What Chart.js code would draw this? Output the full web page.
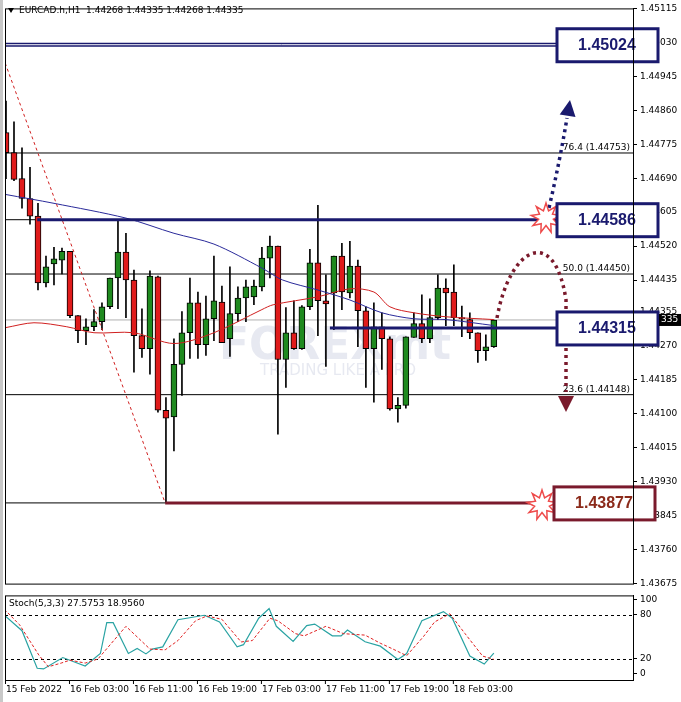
<!DOCTYPE html>
<html>
<head>
<meta charset="utf-8">
<script src="https://cdn.jsdelivr.net/npm/chart.js@4.4.1/dist/chart.umd.min.js"></script>
<style>
    body { margin: 0; background: #fff; width: 681px; height: 702px; overflow: hidden; position: relative; }
    canvas { position: absolute; left: 0; }
    #main-chart { top: 0; }
    #stoch-chart { top: 587px; }
</style>
</head>
<body>
<canvas id="main-chart" width="681" height="592"></canvas>
<canvas id="stoch-chart" width="681" height="115"></canvas>
<script>
/*
    data (EURCAD H1)
*/
const candleOpen = [
    1.44804, 1.44754, 1.44689, 1.44639, 1.44595, 1.44428, 1.44475, 1.44485, 1.44507, 1.44346,
    1.44308, 1.44318, 1.44331, 1.44368, 1.44440, 1.44505, 1.44435, 1.44296, 1.44263, 1.44443,
    1.44109, 1.44092, 1.44224, 1.44303, 1.44378, 1.44273, 1.44338, 1.44380, 1.44288, 1.44351,
    1.44390, 1.44393, 1.44418, 1.44490, 1.44520, 1.44236, 1.44303, 1.44263, 1.44368, 1.44478,
    1.44383, 1.44403, 1.44495, 1.44403, 1.44470, 1.44358, 1.44263, 1.44318, 1.44288, 1.44112,
    1.44121, 1.44291, 1.44326, 1.44288, 1.44341, 1.44415, 1.44405, 1.44341, 1.44336, 1.44303,
    1.44258, 1.44268
];
const candleClose = [
    1.44754, 1.44687, 1.44639, 1.44595, 1.44428, 1.44468, 1.44488, 1.44507, 1.44346, 1.44308,
    1.44318, 1.44331, 1.44368, 1.44440, 1.44505, 1.44435, 1.44296, 1.44263, 1.44445, 1.44109,
    1.44089, 1.44224, 1.44303, 1.44378, 1.44273, 1.44338, 1.44383, 1.44278, 1.44351, 1.44390,
    1.44418, 1.44420, 1.44490, 1.44520, 1.44236, 1.44303, 1.44263, 1.44368, 1.44478, 1.44383,
    1.44375, 1.44495, 1.44405, 1.44470, 1.44358, 1.44263, 1.44318, 1.44288, 1.44112, 1.44121,
    1.44293, 1.44326, 1.44288, 1.44341, 1.44415, 1.44403, 1.44341, 1.44338, 1.44303, 1.44258,
    1.44268, 1.44335
];
const candleHigh = [
    1.44883, 1.44831, 1.44766, 1.44717, 1.44627, 1.44495, 1.44517, 1.44515, 1.44507, 1.44346,
    1.44338, 1.44361, 1.44378, 1.44440, 1.44585, 1.44552, 1.44460, 1.44363, 1.44458, 1.44445,
    1.44141, 1.44288, 1.44356, 1.44440, 1.44405, 1.44395, 1.44495, 1.44420, 1.44468, 1.44418,
    1.44435, 1.44435, 1.44517, 1.44545, 1.44520, 1.44366, 1.44383, 1.44371, 1.44512, 1.44622,
    1.44448, 1.44495, 1.44527, 1.44532, 1.44485, 1.44368, 1.44378, 1.44353, 1.44293, 1.44141,
    1.44293, 1.44353, 1.44398, 1.44388, 1.44448, 1.44438, 1.44473, 1.44370, 1.44353, 1.44303,
    1.44298, 1.44335
];
const candleLow = [
    1.44689, 1.44684, 1.44615, 1.44575, 1.44410, 1.44418, 1.44423, 1.44450, 1.44341, 1.44278,
    1.44273, 1.44308, 1.44311, 1.44363, 1.44363, 1.44341, 1.44204, 1.44241, 1.44199, 1.44104,
    1.43877, 1.44007, 1.44146, 1.44239, 1.44239, 1.44246, 1.44283, 1.44278, 1.44244, 1.44331,
    1.44331, 1.44373, 1.44408, 1.44440, 1.44049, 1.44166, 1.44261, 1.44261, 1.44361, 1.44296,
    1.44219, 1.44311, 1.44361, 1.44390, 1.44268, 1.44166, 1.44129, 1.44211, 1.44109, 1.44079,
    1.44114, 1.44291, 1.44278, 1.44278, 1.44336, 1.44321, 1.44321, 1.44293, 1.44288, 1.44229,
    1.44234, 1.44266
];

// moving averages, read at a few bar positions
const maBlueBars = [0, 6, 15, 21, 26, 32, 34.6, 39, 43, 47, 51, 55, 61];
const maBlueValues = [1.44649, 1.44627, 1.44590, 1.44552, 1.44525, 1.44465, 1.44435, 1.44410, 1.44385, 1.44353, 1.44338, 1.44336, 1.44321];
const maRedBars = [0, 3.5, 7.6, 11, 16, 21, 26, 32, 33.4, 39, 43, 46, 48, 51, 55, 61];
const maRedValues = [1.44316, 1.44328, 1.44318, 1.44303, 1.44303, 1.44276, 1.44303, 1.44361, 1.44373, 1.44393, 1.44413, 1.44405, 1.44368, 1.44353, 1.44343, 1.44336];

// stochastic (5,3,3)
const stochMainBars = [-0.2, 2, 3.9, 4.7, 7.1, 9.9, 11.8, 12.6, 13.4, 15.3, 16.4, 17.5, 18.3, 19.6, 21.5, 24.8, 26.7, 28.9, 29.7, 31.6, 32.9, 33.8, 35.9, 37.6, 38.6, 40.8, 41.9, 42.7, 44.9, 46.8, 49, 50.1, 52, 54.7, 55.8, 58, 59.8, 61];
const stochMainValues = [79, 58, 7, 6, 21.5, 10, 27, 69, 69, 27, 34, 26.5, 33, 36, 73, 79, 70, 36, 39, 75, 88, 64, 43.5, 65, 67, 51, 51, 59, 43, 37, 19, 27, 71.5, 84, 75, 23.5, 12.7, 27.6];
const stochSignalBars = [-0.2, 1.7, 4.1, 5.3, 6.9, 8, 9.9, 11.5, 15, 18, 19.9, 21.5, 23.7, 25.1, 27, 29.4, 30.8, 33, 34, 36.2, 37.3, 40, 42.2, 44.9, 46.8, 48.4, 50.1, 52.2, 53.6, 55.5, 57.4, 59.6, 61];
const stochSignalValues = [87, 66, 25, 9, 14, 18, 14, 19.6, 64, 33, 32, 44.6, 71.5, 78, 73.5, 42.7, 44.6, 75, 71.5, 54, 51, 64, 54, 52, 41, 33, 24, 50, 70, 81, 54, 23.5, 19];

// levels
const priceTicks = [1.45115, 1.45030, 1.44945, 1.44860, 1.44775, 1.44690, 1.44605, 1.44520, 1.44435, 1.44355, 1.44270, 1.44185, 1.44100, 1.44015, 1.43930, 1.43845, 1.43760, 1.43675];
const fibLevels = [76.4, 50.0, 23.6];
const fibPrices = [1.44753, 1.44450, 1.44148];
const boxPrices = [1.45024, 1.44586, 1.44315, 1.43877];
const lastPrice = 1.44335;
const timeLabels = ["15 Feb 2022", "16 Feb 03:00", "16 Feb 11:00", "16 Feb 19:00", "17 Feb 03:00", "17 Feb 11:00", "17 Feb 19:00", "18 Feb 03:00"];
const stochTickValues = [0, 20, 80, 100];

const X_MIN = -0.125;
const X_MAX = 78.4;
const NAVY = "#1a1a6e";
const MAROON = "#7a1a2c";
const RED_CANDLE = "#e01b1b";
const GREEN_CANDLE = "#1f8a1f";
const FONT = "DejaVu Sans";

/*
    build candle datasets (wick + body as floating bars)
*/
const wickData = candleOpen.map((o, i) => ({ x: i, y: [candleLow[i], candleHigh[i]] }));
const bodyData = candleOpen.map((o, i) => {
    const c = candleClose[i];
    if (Math.abs(o - c) < 0.00002) {
        return { x: i, y: [Math.min(o, c) - 0.00002, Math.max(o, c) + 0.00002] };
    }
    return { x: i, y: [o, c] };
});
const bodyColors = candleOpen.map((o, i) => candleClose[i] >= o ? GREEN_CANDLE : RED_CANDLE);

function flatLine(price, from, to) {
    return [{ x: from, y: price }, { x: to, y: price }];
}

const mainDatasets = [
    { type: "bar", data: wickData, backgroundColor: "#000", barThickness: 1, grouped: false, order: 5 },
    { type: "bar", data: bodyData, backgroundColor: bodyColors, borderColor: "#000", borderWidth: 1, borderSkipped: false, barThickness: 6, grouped: false, order: 4 },
    { type: "line", data: maBlueBars.map((b, i) => ({ x: b, y: maBlueValues[i] })), borderColor: "#2a2a9a", borderWidth: 1, pointRadius: 0, tension: 0.3, order: 3 },
    { type: "line", data: maRedBars.map((b, i) => ({ x: b, y: maRedValues[i] })), borderColor: "#d02020", borderWidth: 1, pointRadius: 0, tension: 0.3, order: 3 },
    // fibonacci trend line
    { type: "line", data: [{ x: -0.1, y: 1.44978 }, { x: 19.9, y: 1.43877 }], borderColor: "#d02020", borderWidth: 1, borderDash: [3, 3], pointRadius: 0, order: 2 },
    // fibo levels
    ...fibPrices.map(p => ({ type: "line", data: flatLine(p, X_MIN, X_MAX), borderColor: "#000", borderWidth: 1, pointRadius: 0, order: 6 })),
    { type: "line", data: flatLine(boxPrices[1], X_MIN, X_MAX), borderColor: "#000", borderWidth: 1, pointRadius: 0, order: 6 },
    { type: "line", data: flatLine(boxPrices[3], X_MIN, 19.9), borderColor: "#000", borderWidth: 1, pointRadius: 0, order: 6 },
    { type: "line", data: flatLine(lastPrice, X_MIN, X_MAX), borderColor: "#b0b0b0", borderWidth: 1, pointRadius: 0, order: 6 },
    // support / resistance
    { type: "line", data: flatLine(boxPrices[0], X_MIN, 69), borderColor: NAVY, borderWidth: 4, pointRadius: 0, order: 1 },
    { type: "line", data: flatLine(boxPrices[0], X_MIN, 69), borderColor: "#fff", borderWidth: 1, pointRadius: 0, order: 0 },
    { type: "line", data: flatLine(boxPrices[1], 3.9, 69), borderColor: NAVY, borderWidth: 3, pointRadius: 0, order: 1 },
    { type: "line", data: flatLine(boxPrices[2], 40.5, 69), borderColor: NAVY, borderWidth: 3, pointRadius: 0, order: 1 },
    { type: "line", data: flatLine(boxPrices[3], 19.9, 67.5), borderColor: MAROON, borderWidth: 3, pointRadius: 0, order: 1 }
];

/*
    decorations: labels, boxes, arrows, bursts, watermark
*/
function drawBurst(ctx, cx, cy, r) {
    ctx.save();
    ctx.beginPath();
    const points = 9;
    for (let k = 0; k < points * 2; k++) {
        const ang = -Math.PI / 2 + k * Math.PI / points;
        const rad = k % 2 === 0 ? r : r * 0.5;
        const px = cx + Math.cos(ang) * rad;
        const py = cy + Math.sin(ang) * rad;
        if (k === 0) ctx.moveTo(px, py); else ctx.lineTo(px, py);
    }
    ctx.closePath();
    ctx.fillStyle = "#fff";
    ctx.fill();
    ctx.strokeStyle = "#ee4b4b";
    ctx.lineWidth = 1.5;
    ctx.stroke();
    ctx.restore();
}

function drawArrowHead(ctx, tipX, tipY, angle, color) {
    ctx.save();
    ctx.translate(tipX, tipY);
    ctx.rotate(angle);
    ctx.beginPath();
    ctx.moveTo(0, 0);
    ctx.lineTo(-16, -8);
    ctx.lineTo(-16, 8);
    ctx.closePath();
    ctx.fillStyle = color;
    ctx.fill();
    ctx.restore();
}

const decorPlugin = {
    id: "decor",
    beforeDatasetsDraw(chart) {
        const ctx = chart.ctx;
        ctx.save();
        ctx.textAlign = "center";
        ctx.textBaseline = "middle";
        ctx.fillStyle = "rgba(195,200,220,0.4)";
        ctx.font = "bold 44px " + FONT;
        ctx.fillText("FOREXmt", 335, 348);
        ctx.font = "15px " + FONT;
        ctx.fillText("TRADING LIKE A PRO", 338, 371);
        ctx.restore();
    },
    afterDatasetsDraw(chart) {
        const ctx = chart.ctx;
        const ys = chart.scales.y;
        const area = chart.chartArea;

        // header
        ctx.save();
        ctx.font = "9px " + FONT;
        ctx.fillStyle = "#000";
        ctx.textBaseline = "middle";
        ctx.beginPath();
        ctx.moveTo(8, 8); ctx.lineTo(14, 8); ctx.lineTo(11, 13); ctx.closePath();
        ctx.fill();
        ctx.fillText("EURCAD.h,H1  1.44268 1.44335 1.44268 1.44335", 19, 11);

        // fib labels
        ctx.textAlign = "right";
        ctx.textBaseline = "bottom";
        fibLevels.forEach((lvl, i) => {
            ctx.fillText(lvl.toFixed(1) + " (" + fibPrices[i].toFixed(5) + ")", area.right - 3, ys.getPixelForValue(fibPrices[i]) - 1);
        });

        // navy dotted arrow up
        ctx.lineWidth = 3.5;
        ctx.setLineDash([3, 4]);
        ctx.strokeStyle = NAVY;
        ctx.beginPath();
        ctx.moveTo(549, 208);
        ctx.quadraticCurveTo(560, 160, 567, 118);
        ctx.stroke();
        // maroon dotted arc
        ctx.strokeStyle = MAROON;
        ctx.beginPath();
        ctx.moveTo(497, 318);
        ctx.bezierCurveTo(510, 245, 555, 225, 566, 300);
        ctx.lineTo(566, 392);
        ctx.stroke();
        ctx.setLineDash([]);
        drawArrowHead(ctx, 570, 100, -Math.PI / 2 + 0.15, NAVY);
        drawArrowHead(ctx, 566, 412, Math.PI / 2, MAROON);

        // bursts
        drawBurst(ctx, 546, 218, 15);
        drawBurst(ctx, 542, 505, 15);

        // boxes
        const boxColors = [NAVY, NAVY, NAVY, MAROON];
        const textColors = [NAVY, NAVY, NAVY, "#8b2a1a"];
        boxPrices.forEach((p, i) => {
            const cy = ys.getPixelForValue(p);
            const left = i === 3 ? 554 : 557;
            ctx.fillStyle = "#fff";
            ctx.fillRect(left, cy - 16, 101, 33);
            ctx.strokeStyle = boxColors[i];
            ctx.lineWidth = 3;
            ctx.strokeRect(left, cy - 16, 101, 33);
            ctx.fillStyle = textColors[i];
            ctx.font = "bold 16px 'Liberation Sans'";
            ctx.textAlign = "center";
            ctx.textBaseline = "middle";
            ctx.fillText(p.toFixed(5), left + 50, cy + 1);
        });
        ctx.restore();
    },
    afterDraw(chart) {
        const ctx = chart.ctx;
        const ys = chart.scales.y;
        const a = chart.chartArea;
        const yy = ys.getPixelForValue(lastPrice);
        ctx.save();
        ctx.strokeStyle = "#000";
        ctx.lineWidth = 1;
        ctx.strokeRect(a.left + 0.5, a.top + 0.5, a.right - a.left, a.bottom - a.top);
        ctx.fillStyle = "#000";
        ctx.fillRect(659, yy - 6, 22, 12);
        ctx.fillStyle = "#fff";
        ctx.font = "9px " + FONT;
        ctx.textBaseline = "middle";
        ctx.fillText("335", 661, yy);
        ctx.fillStyle = "#c8c8c8";
        ctx.fillRect(0, 0, 3, 702);
        ctx.restore();
    }
};

const mainChart = new Chart(document.getElementById("main-chart"), {
    data: { datasets: mainDatasets },
    options: {
        responsive: false,
        animation: false,
        layout: { padding: { left: 5, top: 7, bottom: 0 } },
        plugins: { legend: { display: false }, tooltip: { enabled: false } },
        scales: {
            x: { type: "linear", min: X_MIN, max: X_MAX, display: false, offset: false },
            y: {
                position: "right",
                min: 1.43675,
                max: 1.45115,
                afterFit: s => { s.width = 48; },
                afterBuildTicks: s => { s.ticks = priceTicks.map(v => ({ value: v })); },
                ticks: { font: { family: FONT, size: 9 }, color: "#000", padding: 3, callback: v => v.toFixed(5) },
                grid: { drawOnChartArea: false, drawTicks: true, tickLength: 4, color: "#000" },
                border: { color: "#000" }
            }
        }
    },
    plugins: [decorPlugin]
});

/*
    stochastic panel
*/
const stochPlugin = {
    id: "stochDecor",
    beforeDatasetsDraw(chart) {
        const ctx = chart.ctx;
        const ys = chart.scales.y;
        const a = chart.chartArea;
        ctx.save();
        ctx.strokeStyle = "#000";
        ctx.setLineDash([3, 3]);
        ctx.lineWidth = 1;
        [80, 20].forEach(v => {
            const y = Math.round(ys.getPixelForValue(v)) + 0.5;
            ctx.beginPath();
            ctx.moveTo(a.left, y);
            ctx.lineTo(a.right, y);
            ctx.stroke();
        });
        ctx.restore();
    },
    afterDraw(chart) {
        const ctx = chart.ctx;
        const xs = chart.scales.x;
        const a = chart.chartArea;
        ctx.save();
        ctx.strokeStyle = "#000";
        ctx.strokeRect(a.left + 0.5, a.top + 0.5, a.right - a.left, a.bottom - a.top);
        ctx.fillStyle = "#000";
        ctx.font = "9px " + FONT;
        ctx.textBaseline = "middle";
        ctx.fillText("Stoch(5,3,3) 27.5753 18.9560", 9, a.top + 8);
        timeLabels.forEach((label, k) => {
            const x = xs.getPixelForValue(k * 8) - 1;
            ctx.beginPath();
            ctx.moveTo(x + 0.5, a.bottom);
            ctx.lineTo(x + 0.5, a.bottom + 4);
            ctx.stroke();
            ctx.fillText(label, x + 1, a.bottom + 10);
        });
        ctx.fillStyle = "#c8c8c8";
        ctx.fillRect(0, 0, 3, 115);
        ctx.restore();
    }
};

const stochChart = new Chart(document.getElementById("stoch-chart"), {
    type: "line",
    data: {
        datasets: [
            { data: stochSignalBars.map((b, i) => ({ x: b, y: stochSignalValues[i] })), borderColor: "#e02020", borderWidth: 1, borderDash: [3, 2], pointRadius: 0 },
            { data: stochMainBars.map((b, i) => ({ x: b, y: stochMainValues[i] })), borderColor: "#2aa3a3", borderWidth: 1.2, pointRadius: 0 }
        ]
    },
    options: {
        responsive: false,
        animation: false,
        layout: { padding: { left: 5, top: 0, bottom: 22 } },
        plugins: { legend: { display: false }, tooltip: { enabled: false } },
        scales: {
            x: { type: "linear", min: X_MIN, max: X_MAX, display: false },
            y: {
                position: "right",
                min: -9,
                max: 106,
                afterFit: s => { s.width = 48; },
                afterBuildTicks: s => { s.ticks = stochTickValues.map(v => ({ value: v })); },
                ticks: { font: { family: FONT, size: 9 }, color: "#000", padding: 3 },
                grid: { drawOnChartArea: false, drawTicks: true, tickLength: 4, color: "#000" },
                border: { color: "#000" }
            }
        }
    },
    plugins: [stochPlugin]
});
</script>
</body>
</html>
